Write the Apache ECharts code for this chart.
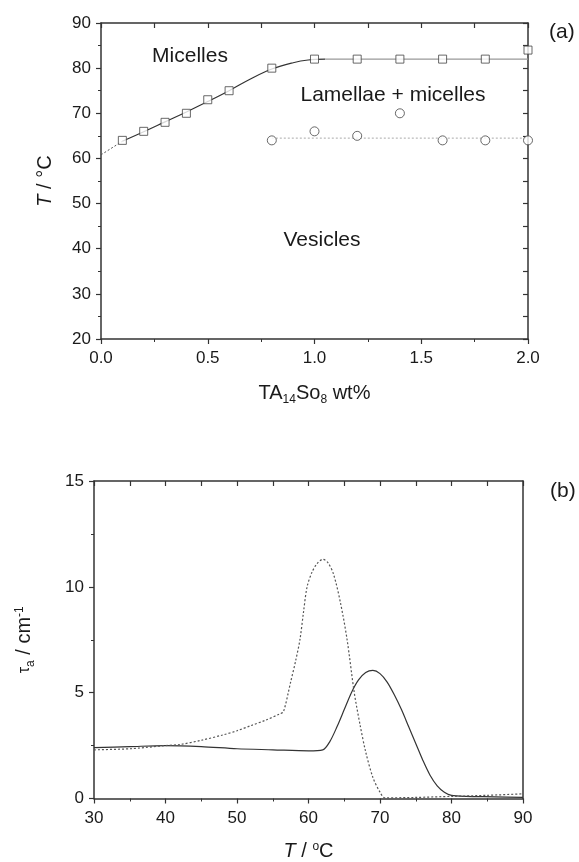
<!DOCTYPE html>
<html>
<head>
<meta charset="utf-8">
<script src="https://cdn.jsdelivr.net/npm/echarts@6/dist/echarts.min.js"></script>
<style>
html,body{margin:0;padding:0;background:#fff;}
#c{width:579px;height:862px;}
</style>
</head>
<body>
<div id="c"></div>
<script>
// ---- Panel (a) data ----
const micelleX = [0.1, 0.2, 0.3, 0.4, 0.5, 0.6, 0.8, 1.0, 1.2, 1.4, 1.6, 1.8, 2.0];
const micelleT = [64, 66, 68, 70, 73, 75, 80, 82, 82, 82, 82, 82, 84];
const vesicleX = [0.8, 1.0, 1.2, 1.4, 1.6, 1.8, 2.0];
const vesicleT = [64, 66, 65, 70, 64, 64, 64];
const fitX = [0.1, 0.2, 0.3, 0.4, 0.5, 0.6, 0.7, 0.8, 0.9, 0.97, 1.05];
const fitT = [63.8, 65.9, 68.1, 70.3, 72.6, 75.0, 77.6, 79.8, 81.2, 81.8, 82.0];
const plateauX = [1.05, 2.0];
const plateauT = [82, 82];
const extrapX = [0.0, 0.1];
const extrapT = [60.8, 63.8];
const lowerX = [0.8, 2.0];
const lowerT = [64.5, 64.5];
const xTicksA = [0.0, 0.5, 1.0, 1.5, 2.0];
const yTicksA = [20, 30, 40, 50, 60, 70, 80, 90];

// ---- Panel (b) data ----
const solidT = [30, 35, 40, 45, 50, 55, 60, 62, 63, 64, 65, 66, 67, 68, 69, 70, 71, 72, 73, 74, 75, 76, 77, 78, 79, 80, 82, 86, 90];
const solidTau = [2.4, 2.45, 2.5, 2.45, 2.35, 2.3, 2.25, 2.3, 2.7, 3.4, 4.2, 5.0, 5.6, 5.95, 6.05, 5.9, 5.5, 4.9, 4.2, 3.4, 2.6, 1.8, 1.1, 0.6, 0.3, 0.15, 0.1, 0.08, 0.05];
const dotT = [30, 35, 40, 42, 45, 48, 50, 52, 54, 56, 56.5, 57.5, 58.2, 58.8, 59.3, 59.8, 60.5, 61.2, 62, 62.7, 63.5, 64.5, 65.4, 66.4, 67.2, 68, 69, 70, 70.7, 75, 80, 85, 90];
const dotTau = [2.3, 2.35, 2.5, 2.55, 2.75, 3.0, 3.2, 3.45, 3.7, 4.0, 4.1, 5.5, 6.5, 7.5, 8.8, 10.0, 10.7, 11.1, 11.3, 11.15, 10.6, 9.2, 7.5, 5.0, 3.5, 2.2, 1.0, 0.3, 0.03, 0.05, 0.1, 0.15, 0.22];
const xTicksB = [30, 40, 50, 60, 70, 80, 90];
const yTicksB = [0, 5, 10, 15];

const zip = (a, b) => a.map((v, i) => [v, b[i]]);
const FONT = '"Liberation Sans", Arial, sans-serif';
const AX = '#333';
const TXT = '#1a1a1a';

function mainAxis(grid, pos, min, max, interval, fmt, name, nameGap, nameRich, margin) {
  return {
    type: 'value', gridIndex: grid, position: pos, min, max, interval,
    axisLine: {show: true, onZero: false, lineStyle: {color: AX, width: 1.5}},
    axisTick: {show: true, inside: false, length: 5, lineStyle: {color: AX, width: 1.2}},
    minorTick: {show: true, splitNumber: 2, length: 3, lineStyle: {color: AX, width: 1}},
    splitLine: {show: false},
    axisLabel: {color: TXT, fontFamily: FONT, fontSize: 17, margin, formatter: fmt},
    name, nameLocation: 'middle', nameGap,
    nameTextStyle: {color: TXT, fontFamily: FONT, fontSize: 20, rich: nameRich}
  };
}
function mirrorAxis(grid, pos, min, max, interval, ticks) {
  return {
    type: 'value', gridIndex: grid, position: pos, min, max, interval,
    axisLine: {show: true, onZero: false, lineStyle: {color: AX, width: 1.5}},
    axisTick: {show: ticks, inside: true, length: 5, lineStyle: {color: AX, width: 1.2}},
    splitLine: {show: false},
    axisLabel: {show: false}
  };
}

const richBase = {
  n: {fontSize: 20, fontFamily: FONT, color: TXT},
  i: {fontSize: 20, fontFamily: FONT, color: TXT, fontStyle: 'italic'},
  s: {fontSize: 12, fontFamily: FONT, color: TXT, padding: [13, 0, 0, 0]},
  sup: {fontSize: 12, fontFamily: FONT, color: TXT, padding: [0, 0, 9, 0]},
  g: {fontSize: 16, fontFamily: FONT, color: TXT}
};

const chart = echarts.init(document.getElementById('c'), null, {renderer: 'canvas'});
chart.setOption({
  animation: false,
  backgroundColor: '#fff',
  grid: [
    {left: 101, top: 23, width: 427, height: 316},
    {left: 94, top: 481, width: 429, height: 318}
  ],
  xAxis: [
    mainAxis(0, 'bottom', 0, 2, 0.5, v => v.toFixed(1), '{n|TA}{s|14}{n|So}{s|8}{n| wt%}', 42, richBase, 11),
    mirrorAxis(0, 'top', 0, 2, 0.25, true),
    mainAxis(1, 'bottom', 30, 90, 10, v => String(v), '{i|T}{n| / }{sup|o}{n|C}', 42, richBase, 11),
    mirrorAxis(1, 'top', 30, 90, 5, true)
  ],
  yAxis: [
    mainAxis(0, 'left', 20, 90, 10, v => String(v), '{i|T}{n| / °C}', 46, richBase, 10),
    mirrorAxis(0, 'right', 20, 90, 5, true),
    mainAxis(1, 'left', 0, 15, 5, v => String(v), '{g|τ}{s|a}{n| / cm}{sup|-1}', 57, richBase, 10),
    mirrorAxis(1, 'right', 0, 15, 5, false)
  ],
  series: [
    {type: 'line', xAxisIndex: 0, yAxisIndex: 0, data: zip(extrapX, extrapT), symbol: 'none',
     lineStyle: {color: '#555', width: 1, type: [2, 2]}, z: 2},
    {type: 'line', xAxisIndex: 0, yAxisIndex: 0, data: zip(fitX, fitT), symbol: 'none', smooth: 0.4,
     lineStyle: {color: '#333', width: 1.2}, z: 2},
    {type: 'line', xAxisIndex: 0, yAxisIndex: 0, data: zip(plateauX, plateauT), symbol: 'none',
     lineStyle: {color: '#999', width: 1.2}, z: 2},
    {type: 'line', xAxisIndex: 0, yAxisIndex: 0, data: zip(lowerX, lowerT), symbol: 'none',
     lineStyle: {color: '#aaa', width: 1, type: [2, 2]}, z: 2},
    {type: 'scatter', xAxisIndex: 0, yAxisIndex: 0, data: zip(micelleX, micelleT), symbol: 'rect', symbolSize: 8,
     itemStyle: {color: '#fff', borderColor: '#444', borderWidth: 1}, z: 5},
    {type: 'scatter', xAxisIndex: 0, yAxisIndex: 0, data: zip(vesicleX, vesicleT), symbol: 'circle', symbolSize: 9,
     itemStyle: {color: '#fff', borderColor: '#444', borderWidth: 1}, z: 5},
    {type: 'line', xAxisIndex: 2, yAxisIndex: 2, data: zip(solidT, solidTau), symbol: 'none', smooth: 0.3,
     lineStyle: {color: '#333', width: 1.2}, z: 3},
    {type: 'line', xAxisIndex: 2, yAxisIndex: 2, data: zip(dotT, dotTau), symbol: 'none', smooth: 0.3,
     lineStyle: {color: '#555', width: 1.2, type: [2, 2]}, z: 3}
  ],
  graphic: [
    {type: 'text', left: 549, top: 22, style: {text: '(a)', fontSize: 21, fontFamily: FONT, fill: TXT}},
    {type: 'text', left: 550, top: 481, style: {text: '(b)', fontSize: 21, fontFamily: FONT, fill: TXT}},
    {type: 'text', x: 190, y: 56, style: {text: 'Micelles', fontSize: 21, fontFamily: FONT, fill: TXT, align: 'center', verticalAlign: 'middle'}},
    {type: 'text', x: 393, y: 95, style: {text: 'Lamellae + micelles', fontSize: 21, fontFamily: FONT, fill: TXT, align: 'center', verticalAlign: 'middle'}},
    {type: 'text', x: 322, y: 240, style: {text: 'Vesicles', fontSize: 21, fontFamily: FONT, fill: TXT, align: 'center', verticalAlign: 'middle'}}
  ]
});
</script>
</body>
</html>
